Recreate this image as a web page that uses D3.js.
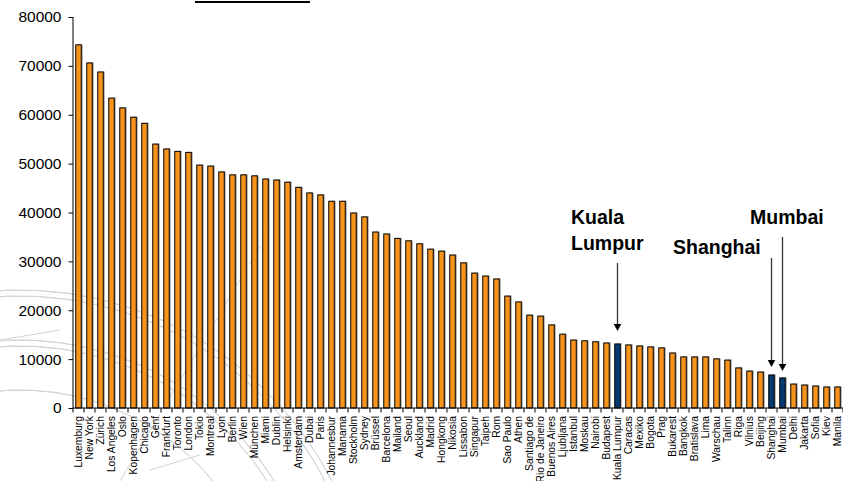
<!DOCTYPE html>
<html>
<head>
<meta charset="utf-8">
<script src="https://cdn.jsdelivr.net/npm/d3@7"></script>
<style>
  html, body { margin: 0; padding: 0; background: #fff; }
  svg { display: block; font-family: "Liberation Sans", Arial, sans-serif; }
</style>
</head>
<body>
<svg id="chart" width="843" height="481"></svg>
<script>
// Cities, in descending order of value
const cities = [
  "Luxemburg", "New York", "Zürich", "Los Angeles", "Oslo", "Kopenhagen", "Chicago", "Genf",
  "Frankfurt", "Toronto", "London", "Tokio", "Montreal", "Lyon", "Berlin", "Wien", "München",
  "Miami", "Dublin", "Helsinki", "Amsterdam", "Dubai", "Paris", "Johannesbur", "Manama",
  "Stockholm", "Sydney", "Brüssel", "Barcelona", "Mailand", "Seoul", "Auckland", "Madrid",
  "Hongkong", "Nikosia", "Lissabon", "Singapur", "Taipeh", "Rom", "Sao Paulo", "Athen",
  "Santiago de", "Rio de Janeiro", "Buenos Aires", "Ljubljana", "Istanbul", "Moskau", "Nairobi",
  "Budapest", "Kuala Lumpur", "Caracas", "Mexiko", "Bogota", "Prag", "Bukarest", "Bangkok",
  "Bratislava", "Lima", "Warschau", "Talinn", "Riga", "Vilnius", "Beijing", "Shanghai",
  "Mumbai", "Delhi", "Jakarta", "Sofia", "Kiev", "Manila"
];

const values = [
  74300, 70600, 68750, 63400, 61400, 59500, 58250, 54000,
  53000, 52500, 52300, 49700, 49500, 48300, 47700, 47700, 47500,
  46850, 46650, 46200, 45150, 44000, 43600, 42300, 42300,
  39900, 39100, 36000, 35600, 34700, 34200, 33600, 32500,
  32100, 31300, 29700, 27600, 27000, 26400, 22900, 21700,
  19000, 18800, 17000, 15100, 13900, 13750, 13550,
  13300, 13100, 12900, 12700, 12500, 12300, 11250, 10450,
  10450, 10450, 10050, 9800, 8200, 7550, 7350, 6750,
  6150, 4900, 4700, 4500, 4300, 4300
];

// Cities picked out in blue, each with its caption
const highlighted = ["Kuala Lumpur", "Shanghai", "Mumbai"];
const callouts = [
  { city: "Kuala Lumpur", lines: ["Kuala", "Lumpur"], textX: 571, textY: 224, lineTop: 263, tipY: 331 },
  { city: "Shanghai", lines: ["Shanghai"], textX: 673, textY: 254, lineTop: 258, tipY: 367 },
  { city: "Mumbai", lines: ["Mumbai"], textX: 750, textY: 224, lineTop: 237, tipY: 371 }
];

const yTicks = [0, 10000, 20000, 30000, 40000, 50000, 60000, 70000, 80000];

const svg = d3.select("#chart");

// Faint line drawing in the background
const deco = svg.append("g").attr("fill", "none").attr("stroke", "#d4d4d4").attr("stroke-width", 1);
const arcCenter = [20, 640];
[350, 344, 300, 294, 250].forEach(r => {
  const arc = d3.arc()({ innerRadius: r, outerRadius: r, startAngle: -0.3, endAngle: 1.1 });
  deco.append("path").attr("d", arc).attr("transform", `translate(${arcCenter[0]},${arcCenter[1]})`);
});
deco.append("line").attr("x1", 120).attr("y1", 481).attr("x2", 270).attr("y2", 230).attr("stroke-dasharray", "22,6");
deco.append("line").attr("x1", 0).attr("y1", 340).attr("x2", 60).attr("y2", 330);
deco.append("line").attr("x1", 150).attr("y1", 470).attr("x2", 200).attr("y2", 455);

// Title underline (title sits above the visible area)
svg.append("line").attr("x1", 195).attr("x2", 310).attr("y1", 2).attr("y2", 2)
  .attr("stroke", "#000").attr("stroke-width", 2);

const x = d3.scaleBand().domain(cities).range([73, 843]).paddingInner(0.5).paddingOuter(0.25);
const y = d3.scaleLinear().domain([0, 80000]).range([408, 17]);

const data = cities.map((c, i) => ({ city: c, value: values[i] }));

// Bar shadows
svg.append("g").selectAll("rect").data(data).join("rect")
  .attr("x", d => x(d.city) + 1.5)
  .attr("y", d => y(d.value) - 0.5)
  .attr("width", x.bandwidth())
  .attr("height", d => y(0) - y(d.value) + 0.5)
  .attr("fill", "#8a8a8a")
  .attr("opacity", 0.75);

// Bars
svg.append("g").selectAll("rect").data(data).join("rect")
  .attr("x", d => x(d.city))
  .attr("y", d => y(d.value))
  .attr("width", x.bandwidth())
  .attr("height", d => y(0) - y(d.value))
  .attr("fill", d => highlighted.includes(d.city) ? "#053a70" : "#f7941e")
  .attr("stroke", "#000")
  .attr("stroke-width", 1);

// Y axis
const yAxis = svg.append("g").attr("transform", "translate(73,0)")
  .call(d3.axisLeft(y).tickValues(yTicks).tickSize(4.5).tickPadding(7).tickFormat(d3.format("d")));
yAxis.select(".domain").attr("d", "M0,17V408").attr("stroke", "#000");
yAxis.selectAll("text").attr("font-size", "15.5px").attr("fill", "#000")
  .attr("font-family", "'Liberation Sans', Arial, sans-serif");

// X axis: baseline, ticks between categories, rotated labels
const step = x.step();
const xg = svg.append("g");
xg.append("line").attr("x1", 73).attr("x2", 843).attr("y1", y(0)).attr("y2", y(0)).attr("stroke", "#000");
xg.selectAll("line.tick").data(d3.range(cities.length + 1)).join("line")
  .attr("class", "tick")
  .attr("x1", i => 73 + i * step).attr("x2", i => 73 + i * step)
  .attr("y1", y(0)).attr("y2", y(0) + 4.5)
  .attr("stroke", "#000");
xg.selectAll("text").data(cities).join("text")
  .attr("transform", d => `translate(${x(d) + x.bandwidth() / 2},${y(0) + 8}) rotate(-90)`)
  .attr("text-anchor", "end")
  .attr("dy", "0.35em")
  .attr("font-size", "10.3px")
  .attr("fill", "#000")
  .text(d => d);

// Callouts with arrows
const cg = svg.append("g");
callouts.forEach(c => {
  const cx = x(c.city) + x.bandwidth() / 2;
  c.lines.forEach((t, k) => {
    cg.append("text").attr("x", c.textX).attr("y", c.textY + k * 26)
      .attr("font-size", "19.5px").attr("font-weight", "bold").attr("fill", "#000").text(t);
  });
  cg.append("line").attr("x1", cx).attr("x2", cx).attr("y1", c.lineTop).attr("y2", c.tipY - 6)
    .attr("stroke", "#333").attr("stroke-width", 1.3);
  cg.append("path")
    .attr("d", `M${cx - 3.8},${c.tipY - 7}L${cx + 3.8},${c.tipY - 7}L${cx},${c.tipY}Z`)
    .attr("fill", "#000");
});
</script>
</body>
</html>
